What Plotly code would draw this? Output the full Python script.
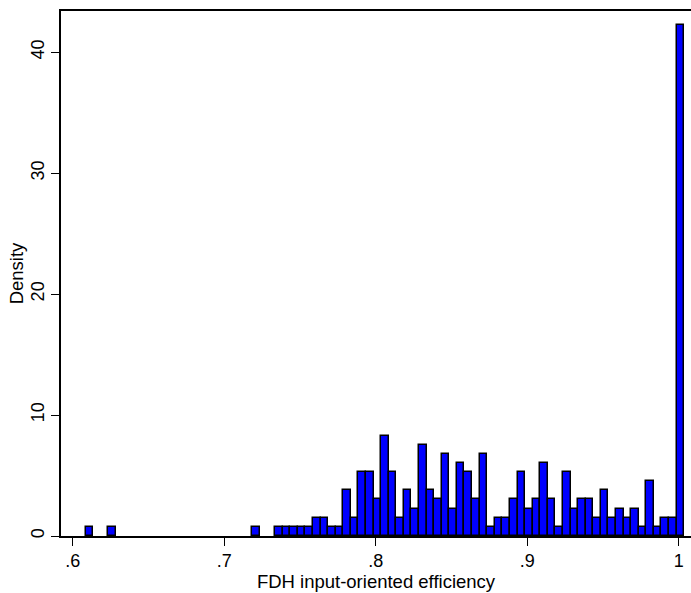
import plotly.graph_objects as go

# Histogram of FDH input-oriented efficiency (bin counts)
bin_start = 0.6086
bin_width = 0.005
counts = [
    1, 0, 0, 1, 0, 0, 0, 0, 0, 0,      # bins 0-9
    0, 0, 0, 0, 0, 0, 0, 0, 0, 0,      # 10-19
    0, 0, 1, 0, 0, 1, 1, 1, 1, 1,      # 20-29
    2, 2, 1, 1, 5, 2, 7, 7, 4, 11,     # 30-39
    7, 2, 5, 3, 10, 5, 4, 9, 3, 8,     # 40-49
    7, 4, 9, 1, 2, 2, 4, 7, 3, 4,      # 50-59
    8, 4, 1, 7, 3, 4, 4, 2, 5, 2,      # 60-69
    3, 2, 3, 1, 6, 1, 2, 2, 56,        # 70-78
]
x_ticks = [0.6, 0.7, 0.8, 0.9, 1.0]
x_tick_labels = [".6", ".7", ".8", ".9", "1"]
y_ticks = [0, 10, 20, 30, 40]
y_tick_labels = ["0", "10", "20", "30", "40"]

n_total = sum(counts)
centers = [bin_start + (i + 0.5) * bin_width for i in range(len(counts))]
density = [c / (n_total * bin_width) if c > 0 else None for c in counts]

fig = go.Figure(
    go.Bar(
        x=centers,
        y=density,
        width=bin_width,
        marker=dict(color="#0000FF", line=dict(color="black", width=1.5)),
        hoverinfo="x+y",
    )
)

font = "Liberation Sans, Arial, Helvetica, sans-serif"
fig.update_layout(
    width=691,
    height=593,
    margin=dict(l=61, r=0, t=11, b=57, autoexpand=False),
    paper_bgcolor="white",
    plot_bgcolor="white",
    bargap=0,
    showlegend=False,
    font=dict(family=font, size=18, color="black"),
)
fig.update_xaxes(
    range=[0.59228, 1.00812],
    tickvals=x_ticks,
    ticktext=x_tick_labels,
    ticks="outside",
    ticklen=8,
    tickwidth=1,
    tickcolor="black",
    showline=True,
    linecolor="black",
    linewidth=1.5,
    mirror=True,
    showgrid=False,
    zeroline=False,
    automargin=False,
    tickfont=dict(size=18),
    title=dict(text="FDH input-oriented efficiency", font=dict(size=18.5), standoff=2),
)
fig.update_yaxes(
    range=[0, 43.4],
    tickvals=y_ticks,
    ticktext=y_tick_labels,
    tickangle=-90,
    ticks="outside",
    ticklen=8,
    tickwidth=1,
    tickcolor="black",
    showline=True,
    linecolor="black",
    linewidth=1.5,
    showgrid=False,
    zeroline=False,
    automargin=False,
    tickfont=dict(size=18),
    title=dict(text="Density", font=dict(size=18.5), standoff=0),
)

fig.write_html(
    "out.html",
    config={"displayModeBar": False},
    post_script="document.body.style.margin='0';document.body.style.padding='0';",
)
